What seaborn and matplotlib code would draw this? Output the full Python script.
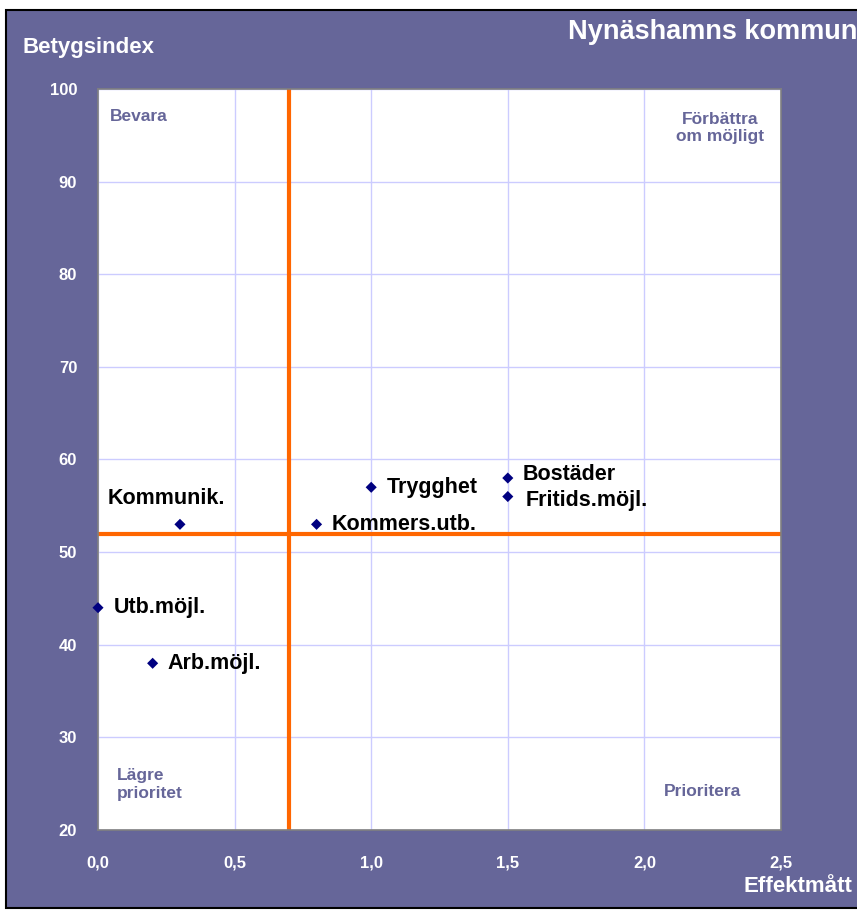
import matplotlib.pyplot as plt
import matplotlib.patches as mpatches
import pandas as pd
import seaborn as sns

# Data
labels = ["Kommunik.", "Kommers.utb.", "Trygghet", "Bostäder", "Fritids.möjl.", "Utb.möjl.", "Arb.möjl."]
effekt = [0.3, 0.8, 1.0, 1.5, 1.5, 0.0, 0.2]
betyg = [53, 53, 57, 58, 56, 44, 38]
x_mid = 0.7
y_mid = 52
x_ticks = [0.0, 0.5, 1.0, 1.5, 2.0, 2.5]
y_ticks = [20, 30, 40, 50, 60, 70, 80, 90, 100]

df = pd.DataFrame({"label": labels, "x": effekt, "y": betyg})

purple = "#666699"
sns.set_style("white")
plt.rcParams['font.family'] = ['Liberation Sans', 'DejaVu Sans']

fig = plt.figure(figsize=(8.57, 9.11), dpi=100)
fig.patch.set_facecolor("white")
# Purple frame behind the chart
bg = mpatches.Rectangle((6 / 857, 3 / 911), 1, 1 - 13 / 911, transform=fig.transFigure,
                        facecolor=purple, edgecolor="black", linewidth=1.5, zorder=-10)
fig.patches.append(bg)

ax = fig.add_axes([98 / 857, 1 - 830 / 911, 683 / 857, 741 / 911])
ax.set_facecolor("white")

ax.set_xlim(0, 2.5)
ax.set_ylim(20, 100)
ax.set_xticks(x_ticks)
ax.set_yticks(y_ticks)
ax.set_xticklabels([f"{v:.1f}".replace(".", ",") for v in x_ticks])
ax.grid(True, color="#ccccff", linewidth=1)
ax.set_axisbelow(True)

# Quadrant lines
ax.axvline(x_mid, color="#ff6600", linewidth=3, zorder=2)
ax.axhline(y_mid, color="#ff6600", linewidth=3, zorder=2)

sns.scatterplot(data=df, x="x", y="y", marker="D", s=32, color="#000080",
                edgecolor="none", ax=ax, zorder=3, clip_on=False)

# label offsets in points
offsets = {"Kommunik.": (-10, 11), "Bostäder": (11, 2.5), "Fritids.möjl.": (13, -2.5)}
for _, r in df.iterrows():
    dx, dy = offsets.get(r["label"], (11, 0))
    if r["label"] == "Kommunik.":
        ax.annotate(r["label"], (r["x"], r["y"]), xytext=(dx, dy), textcoords="offset points",
                    ha="center", va="bottom", fontsize=15.5, fontweight="bold", color="black")
    else:
        ax.annotate(r["label"], (r["x"], r["y"]), xytext=(dx, dy), textcoords="offset points",
                    ha="left", va="center", fontsize=15.5, fontweight="bold", color="black")

# Quadrant captions
qkw = dict(color=purple, fontsize=12.5, fontweight="bold")
ax.text(0.044, 97.0, "Bevara", ha="left", va="center", **qkw)
ax.text(2.438, 95.8, "Förbättra\nom möjligt", ha="right", va="center", multialignment="center", **qkw)
ax.text(0.07, 24.9, "Lägre\nprioritet", ha="left", va="center", **qkw)
ax.text(2.354, 24.2, "Prioritera", ha="right", va="center", **qkw)

for side in ["top", "right", "left", "bottom"]:
    ax.spines[side].set_color("#808080")
    ax.spines[side].set_linewidth(1.2)

ax.tick_params(axis="y", colors="white", labelsize=12, length=5, width=1, pad=10, color="#808080")
ax.tick_params(axis="x", colors="white", labelsize=12, length=0, pad=18)
for t in ax.get_xticklabels() + ax.get_yticklabels():
    t.set_fontweight("bold")
ax.set_xlabel("")
ax.set_ylabel("")

fig.text(22 / 857, 1 - 47 / 911, "Betygsindex", color="white", fontsize=16,
         fontweight="bold", ha="left", va="center")
fig.text(852 / 857, 1 - 886 / 911, "Effektmått", color="white", fontsize=16,
         fontweight="bold", ha="right", va="center")
fig.text(568 / 857, 1 - 32 / 911, "Nynäshamns kommun", color="white", fontsize=19.5,
         fontweight="bold", ha="left", va="center")

fig.savefig("out.png", dpi=100, facecolor=fig.get_facecolor())
